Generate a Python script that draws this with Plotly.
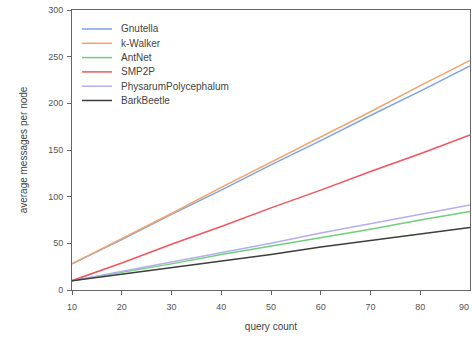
import plotly.graph_objects as go

query_count = [10, 20, 30, 40, 50, 60, 70, 80, 90]
gnutella = [28, 54, 81, 107, 134, 160, 187, 213, 240]
k_walker = [28, 55, 82, 110, 137, 164, 191, 219, 246]
antnet = [10, 19, 28, 38, 47, 56, 65, 75, 84]
smp2p = [10, 29, 49, 68, 88, 107, 127, 146, 166]
physarum = [10, 20, 30, 40, 50, 61, 71, 81, 91]
barkbeetle = [10, 17, 24, 31, 38, 46, 53, 60, 67]

names = ["Gnutella", "k-Walker", "AntNet", "SMP2P", "PhysarumPolycephalum", "BarkBeetle"]
values = [gnutella, k_walker, antnet, smp2p, physarum, barkbeetle]
colors = ["#7fa3e3", "#f2a468", "#6fcf7a", "#f0555c", "#b4aef0", "#3a3f3a"]

FONT = "Arial, Liberation Sans"
W, H = 472, 338
L, R, T, B = 72, 2, 10, 48

fig = go.Figure()
for name, vals, color in zip(names, values, colors):
    fig.add_trace(go.Scatter(x=query_count, y=vals, mode="lines", name=name,
                             line=dict(color=color, width=1.5), showlegend=False))

# manual compact legend (paper coordinates)
shapes = []
annotations = []
pw, ph = W - L - R, H - T - B
for i, (name, color) in enumerate(zip(names, colors)):
    ypx = 29 + i * 14.3
    yp = 1 - (ypx - T) / ph
    x0 = (82 - L) / pw
    x1 = (112 - L) / pw
    shapes.append(dict(type="line", xref="paper", yref="paper", x0=x0, x1=x1, y0=yp, y1=yp,
                       line=dict(color=color, width=1.5)))
    annotations.append(dict(xref="paper", yref="paper", x=(119 - L) / pw, y=yp, text=name,
                            showarrow=False, xanchor="left", yanchor="middle",
                            font=dict(family=FONT, size=10, color="#444")))

# last x tick label, kept inside the window
annotations.append(dict(xref="x", yref="paper", x=query_count[-1], y=0, yshift=-10, xshift=1,
                        text=str(query_count[-1]), showarrow=False, xanchor="right", yanchor="top",
                        font=dict(family=FONT, size=9, color="#555")))

axis_common = dict(showgrid=False, zeroline=False, showline=True, linecolor="#666",
                   linewidth=1, mirror=True, ticks="outside", ticklen=4,
                   tickcolor="#666", tickfont=dict(family=FONT, size=9, color="#555"))

fig.update_layout(
    width=W, height=H,
    margin=dict(l=L, r=R, t=T, b=B),
    paper_bgcolor="white", plot_bgcolor="white",
    shapes=shapes, annotations=annotations,
    xaxis=dict(range=[10, 90], tickvals=query_count[:-1], ticklabelstandoff=4,
               title=dict(text="query count", font=dict(family=FONT, size=10, color="#444"), standoff=12),
               **axis_common),
    yaxis=dict(range=[0, 300], dtick=50, ticklabelstandoff=2,
               title=dict(text="average messages per node", font=dict(family=FONT, size=10, color="#444"), standoff=18),
               **axis_common),
)

fig.write_html("out.html")
